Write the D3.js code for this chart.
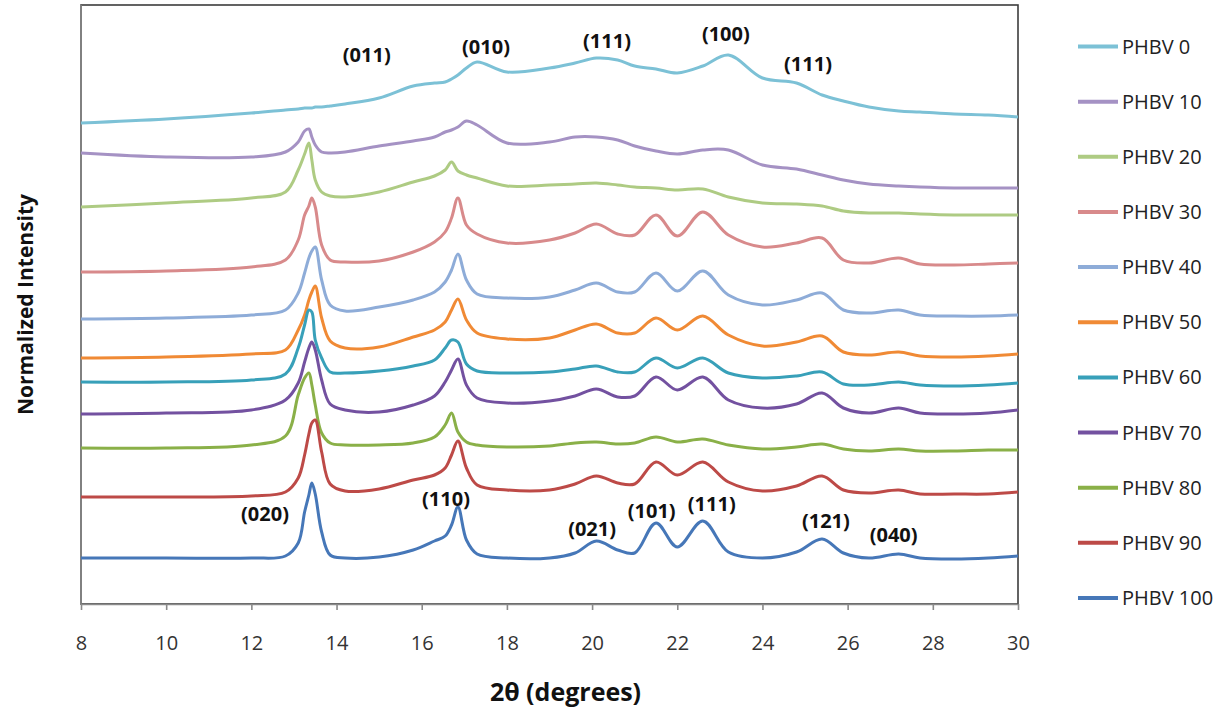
<!DOCTYPE html>
<html>
<head>
<meta charset="utf-8">
<script src="https://cdn.jsdelivr.net/npm/d3@7"></script>
<style>
  body { margin: 0; background: #fff; }
  svg { display: block; font-family: "Open Sans", sans-serif; }
</style>
</head>
<body>
<svg id="chart"></svg>
<script>
// 2-theta sample points (degrees)
const thetas = [8, 10, 12, 12.8, 13.1, 13.25, 13.35, 13.42, 13.5, 13.65, 13.85,
                14.2, 15, 15.8, 16.3, 16.55, 16.7, 16.85, 17.05, 17.3,
                18, 19, 19.6, 20.1, 20.6, 21, 21.5, 22, 22.6, 23.2,
                24, 24.8, 25.4, 25.9, 26.5, 27.2, 27.7, 28.5, 29.3, 30];

// stacked normalized intensities (arbitrary units, offset per sample)
const phbv0   = [481,485,491,494,495,496,496,496,497,497,498, 500,506,518,521,522,525,529,536,542, 532,536,541,546,544,538,535,531,538,549, 526,521,509,503,497,493,492,490,489,487];
const phbv10  = [451,447,447,452,462,473,475,467,459,452,451, 452,458,463,467,472,474,477,483,479, 461,462,467,467,464,458,453,450,454,454, 439,435,429,424,420,418,417,416,416,416];
const phbv20  = [397,401,406,412,434,450,461,444,424,412,408, 407,412,422,428,434,442,433,429,426, 418,419,420,421,419,417,416,414,415,407, 401,400,398,393,391,391,390,389,389,389];
const phbv30  = [332,333,337,344,364,389,398,406,397,359,344, 342,343,352,362,372,386,406,379,370, 361,364,371,380,370,369,389,368,392,369, 357,361,366,344,341,346,340,339,340,341];
const phbv40  = [285,286,289,294,311,331,346,353,357,324,299, 293,297,304,312,322,334,350,324,310, 306,307,314,321,312,312,331,313,333,309, 299,304,311,294,291,294,289,288,288,289];
const phbv50  = [246,247,250,254,274,289,304,312,318,286,263, 256,257,267,274,282,294,305,284,271, 265,266,274,280,271,271,286,274,288,269, 258,262,268,252,249,252,248,247,248,250];
const phbv60  = [222,222,224,230,256,279,294,292,264,246,232, 231,233,238,244,256,264,262,240,233, 231,232,235,238,232,232,246,236,246,231, 226,228,232,220,219,222,219,218,219,221];
const phbv70  = [190,191,194,204,221,242,256,262,254,224,200, 194,192,199,208,222,234,245,219,206, 201,203,208,215,207,208,227,214,227,204, 196,200,211,196,191,196,191,190,191,194];
const phbv80  = [156,156,159,168,209,226,231,219,199,171,161, 159,159,161,167,179,191,172,162,159, 157,158,161,162,160,161,167,162,165,159, 155,157,160,155,153,155,153,153,154,154];
const phbv90  = [107,107,108,112,126,149,170,181,184,152,120, 113,115,124,129,136,149,163,136,119, 114,114,120,128,121,120,142,129,142,122, 113,118,128,114,111,114,110,110,110,112];
const phbv100 = [46,46,46,48,61,92,109,121,110,72,49, 46,47,54,63,68,79,97,64,50, 46,46,51,63,54,51,81,57,83,52, 46,52,65,51,46,50,46,45,46,48];

const seriesNames = ["PHBV 0", "PHBV 10", "PHBV 20", "PHBV 30", "PHBV 40", "PHBV 50",
                     "PHBV 60", "PHBV 70", "PHBV 80", "PHBV 90", "PHBV 100"];
const seriesValues = [phbv0, phbv10, phbv20, phbv30, phbv40, phbv50,
                      phbv60, phbv70, phbv80, phbv90, phbv100];
const colors = ["#7cc1d6", "#a592c4", "#aecb83", "#d88a8b", "#8eacd8", "#f08a35",
                "#38a0b9", "#7351a0", "#8ab048", "#bd4a47", "#4677b8"];

const xTicks = [8, 10, 12, 14, 16, 18, 20, 22, 24, 26, 28, 30];

// peak labels: [text, 2-theta, level]
const peakLabels = [
  ["(011)", 14.71, 542], ["(010)", 17.51, 550], ["(111)", 20.35, 556],
  ["(100)", 23.14, 563], ["(111)", 25.07, 533],
  ["(020)", 12.32, 83], ["(110)", 16.57, 98], ["(021)", 20.0, 68],
  ["(101)", 21.40, 86], ["(111)", 22.81, 93], ["(121)", 25.49, 76],
  ["(040)", 27.08, 62]
];

const width = 1226;
const height = 712;
const margin = { top: 5, left: 81, right: 208, bottom: 108 };

const svg = d3.select("#chart")
              .attr("width", width)
              .attr("height", height);

const x = d3.scaleLinear()
            .domain([8, 30])
            .range([margin.left, width - margin.right]);

const y = d3.scaleLinear()
            .domain([0, 600])
            .range([height - margin.bottom, margin.top - 1]);

// plot frame
svg.append("rect")
   .attr("x", x(8))
   .attr("y", margin.top)
   .attr("width", x(30) - x(8))
   .attr("height", height - margin.bottom - margin.top)
   .attr("fill", "none")
   .attr("stroke", "#3c3c3c")
   .attr("stroke-width", 1.6);

// left axis line
svg.append("line")
   .attr("x1", x(8)).attr("x2", x(8))
   .attr("y1", margin.top).attr("y2", height - margin.bottom)
   .attr("stroke", "#8a8a8a")
   .attr("stroke-width", 1.6);

// x axis
const xAxis = d3.axisBottom(x)
                .tickValues(xTicks)
                .tickSize(6)
                .tickPadding(26)
                .tickSizeOuter(0);

const gx = svg.append("g")
              .attr("transform", `translate(0,${height - margin.bottom})`)
              .call(xAxis);
gx.select(".domain").attr("stroke", "#8a8a8a").attr("stroke-width", 1.6);
gx.selectAll(".tick line").attr("stroke", "#8a8a8a").attr("stroke-width", 1.6);
gx.selectAll(".tick text")
  .attr("fill", "#333")
  .style("font-size", "20px")
  .style("font-family", "'Open Sans', sans-serif");

// curves
const line = d3.line()
               .x((d, i) => x(thetas[i]))
               .y(d => y(d))
               .curve(d3.curveCatmullRom.alpha(0.5));

svg.append("g")
   .selectAll("path")
   .data(seriesValues)
   .enter()
   .append("path")
   .attr("d", d => line(d))
   .attr("fill", "none")
   .attr("stroke", (d, i) => colors[i])
   .attr("stroke-width", 3)
   .attr("stroke-linejoin", "round");

// peak labels
svg.append("g")
   .selectAll("text")
   .data(peakLabels)
   .enter()
   .append("text")
   .attr("x", d => x(d[1]))
   .attr("y", d => y(d[2]))
   .attr("text-anchor", "middle")
   .attr("fill", "#111")
   .style("font-size", "20px")
   .style("font-weight", "bold")
   .text(d => d[0]);

// axis titles
svg.append("text")
   .attr("transform", `translate(33,${(margin.top + height - margin.bottom) / 2}) rotate(-90)`)
   .attr("text-anchor", "middle")
   .attr("fill", "#111")
   .style("font-size", "21px")
   .style("font-weight", "bold")
   .text("Normalized Intensity");

svg.append("text")
   .attr("x", (x(8) + x(30)) / 2 + 16)
   .attr("y", 701)
   .attr("text-anchor", "middle")
   .attr("fill", "#111")
   .style("font-size", "25px")
   .style("font-weight", "bold")
   .text("2θ (degrees)");

// legend
const legendY = d3.scalePoint()
                  .domain(seriesNames)
                  .range([46.5, 598]);

const legend = svg.append("g")
                  .selectAll("g")
                  .data(seriesNames)
                  .enter()
                  .append("g")
                  .attr("transform", d => `translate(1078,${legendY(d)})`);

legend.append("line")
      .attr("x1", 0).attr("x2", 40)
      .attr("stroke", (d, i) => colors[i])
      .attr("stroke-width", 4);

legend.append("text")
      .attr("x", 44)
      .attr("y", 7)
      .attr("fill", "#222")
      .style("font-size", "20px")
      .text(d => d);
</script>
</body>
</html>
